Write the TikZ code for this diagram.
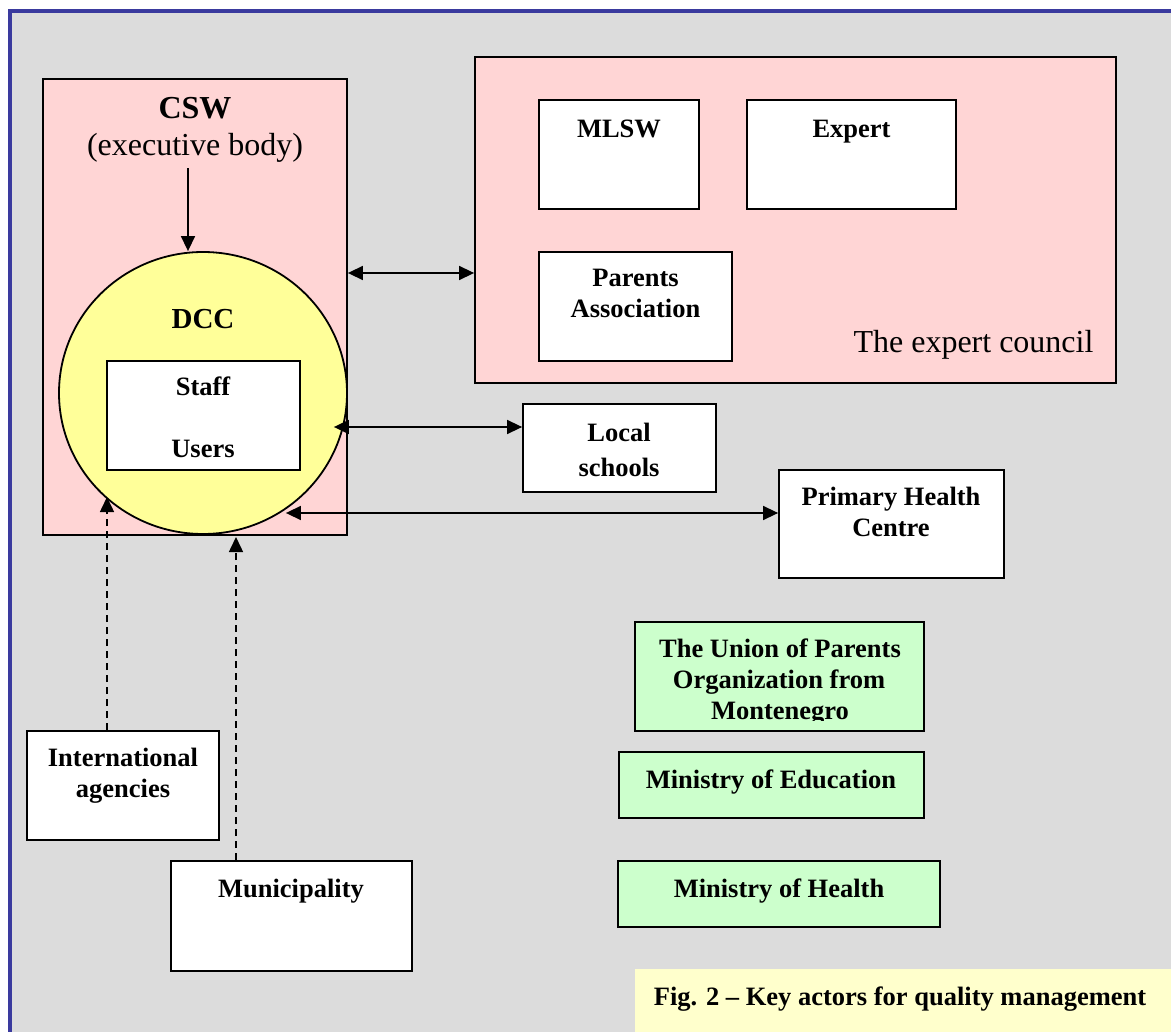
\documentclass[tikz,border=0pt]{standalone}
\usepackage{fontspec}
\setmainfont{Liberation Serif}
\usetikzlibrary{arrows.meta,shapes.geometric}
\definecolor{bgGrey}{HTML}{DCDCDC}
\definecolor{frameBlue}{HTML}{3A3A9E}
\definecolor{pinkF}{HTML}{FFD5D5}
\definecolor{yelF}{HTML}{FFFF99}
\definecolor{greenF}{HTML}{CCFFCC}
\definecolor{captF}{HTML}{FFFFCC}
\newcommand\mylab{\fontsize{26.5}{31}\selectfont\bfseries}
\newcommand\mybig{\fontsize{32}{38}\selectfont}
\begin{document}
\begin{tikzpicture}[x=1pt,y=-1pt,
  >={Triangle[length=15pt,width=14pt]},
  box/.style={draw=black,line width=1.8pt,inner sep=0pt,rectangle},
  wbox/.style={box,fill=white},
  pbox/.style={box,fill=pinkF},
  gbox/.style={box,fill=greenF},
  lab/.style={anchor=base,inner sep=0pt,font=\mylab},
  biglab/.style={anchor=base,inner sep=0pt,font=\mybig},
  link/.style={line width=1.5pt},
  dlink/.style={line width=1.5pt,dash pattern=on 7pt off 5pt}]
\useasboundingbox (0,0) rectangle (1171,1032);
% background and frame
\fill[bgGrey] (10,11) rectangle (1171,1032);
\draw[frameBlue,line width=4pt] (10,1032) -- (10,11) -- (1171,11);
% caption
\fill[captF] (635,969) rectangle (1171,1032);
\node[lab] (capt) at (900,1005) {Fig. 2 -- Key actors for quality management};
% CSW
\node[pbox,minimum width=304pt,minimum height=456pt] (csw) at (195,307) {};
\node[biglab,font=\mybig\bfseries] (cswT) at (195,119) {CSW};
\node[biglab] (cswS) at (195,156) {(executive body)};
% DCC circle
\node[ellipse,draw=black,line width=1.8pt,fill=yelF,inner sep=0pt,minimum width=288pt,minimum height=282pt] (dcc) at (203,393) {};
\node[lab,font=\fontsize{29}{34}\selectfont\bfseries] (dccT) at (203,329) {DCC};
\node[wbox,minimum width=193pt,minimum height=109pt] (su) at (203.5,415.5) {};
\node[lab] (staffT) at (203,396) {Staff};
\node[lab] (usersT) at (203,457) {Users};
% expert council
\node[pbox,minimum width=641pt,minimum height=326pt] (council) at (795.5,220) {};
\node[wbox,minimum width=160pt,minimum height=109pt] (mlsw) at (619,154.5) {};
\node[lab] (mlswT) at (619,138) {MLSW};
\node[wbox,minimum width=209pt,minimum height=109pt] (expert) at (851.5,154.5) {};
\node[lab] (expertT) at (851.5,138) {Expert};
\node[wbox,minimum width=193pt,minimum height=109pt] (parents) at (635.5,306.5) {};
\node[lab] (parentsT1) at (635.5,287) {Parents};
\node[lab] (parentsT2) at (635.5,318) {Association};
\node[biglab] (councilT) at (973.5,353) {The expert council};
% local schools
\node[wbox,minimum width=193pt,minimum height=88pt] (ls) at (619.5,448) {};
\node[lab] (lsT1) at (619,442) {Local};
\node[lab] (lsT2) at (619,476) {schools};
% primary health centre
\node[wbox,minimum width=225pt,minimum height=108pt] (phc) at (891.5,524) {};
\node[lab] (phcT1) at (891,505) {Primary Health};
\node[lab] (phcT2) at (891,536) {Centre};
% international agencies
\node[wbox,minimum width=192pt,minimum height=109pt] (intl) at (123,785.5) {};
\node[lab] (intlT1) at (123,766) {International};
\node[lab] (intlT2) at (123,797) {agencies};
% municipality
\node[wbox,minimum width=241pt,minimum height=110pt] (muni) at (291.5,916) {};
\node[lab] (muniT) at (291,897) {Municipality};
% green boxes
\node[gbox,minimum width=289pt,minimum height=109pt] (union) at (779.5,676.5) {};
\begin{scope}
\clip (635,622) rectangle (924,720.5);
\node[lab] (unionT1) at (780,657) {The Union of Parents};
\node[lab] (unionT2) at (779,688) {Organization from};
\node[lab] (unionT3) at (780,719) {Montenegro};
\end{scope}
\node[gbox,minimum width=305pt,minimum height=66pt] (moe) at (771.5,785) {};
\node[lab] (moeT) at (771,788) {Ministry of Education};
\node[gbox,minimum width=322pt,minimum height=66pt] (moh) at (779,894) {};
\node[lab] (mohT) at (779,897) {Ministry of Health};
% connectors
\coordinate (r1) at (0,273);
\coordinate (r2) at (0,427);
\coordinate (r3) at (0,513);
\coordinate (c1) at (107,497);
\coordinate (c2) at (236,537);
\draw[link,->] (cswS.south -| 188,0) ++(0,5) -- (dcc.north -| 188,0);
\draw[link,<->] (csw.east |- r1) -- (council.west |- r1);
\draw[link,<->] ([xshift=-14pt]dcc.east |- r2) -- (ls.west |- r2);
\draw[link,<->] ([xshift=-62pt]dcc.east |- r3) -- (phc.west |- r3);
\draw[dlink,->] (c1 |- intl.north) -- (c1);
\draw[dlink,->] (c2 |- muni.north) -- (c2);
\end{tikzpicture}
\end{document}
